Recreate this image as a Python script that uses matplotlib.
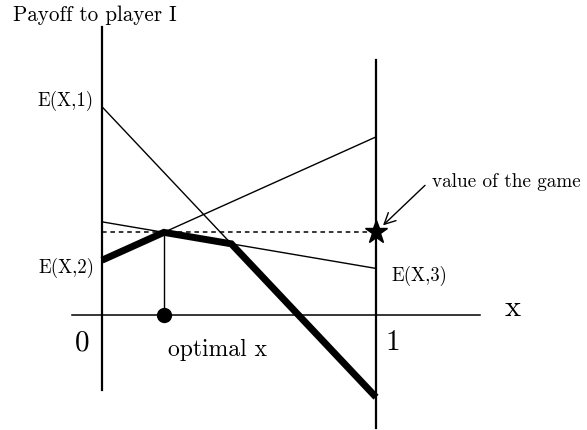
import numpy as np
import matplotlib.pyplot as plt

plt.rcParams['font.family'] = ['cmr10', 'DejaVu Serif']
plt.rcParams['mathtext.fontset'] = 'cm'

# payoff lines E(X,j) given by value at x=0 and at x=1
labels = ['E(X,1)', 'E(X,2)', 'E(X,3)']
at0 = [0.76, 0.20, 0.34]
at1 = [-0.30, 0.65, 0.17]


def lower_envelope(a, b):
    xs = [0.0, 1.0]
    for i in range(len(a)):
        for j in range(i + 1, len(a)):
            d = (a[i] - a[j]) - (b[i] - b[j])
            if d != 0:
                t = (a[i] - a[j]) / d
                if 0 < t < 1:
                    xs.append(t)
    xs = np.sort(xs)
    ys = np.min([[ai + (bi - ai) * x for x in xs] for ai, bi in zip(a, b)], axis=0)
    return xs, ys


fig = plt.figure(figsize=(5.87, 4.30), dpi=100)
ax = fig.add_axes([0, 0, 1, 1])
s = 274.0
ax.set_xlim(-102 / s, (587 - 102) / s)
ax.set_ylim(-115 / s, 315 / s)
ax.axis('off')

# axes of the diagram
ax.plot([-30 / s, 378 / s], [0, 0], color='black', lw=1.1)
ax.plot([0, 0], [-75 / s, 288 / s], color='black', lw=1.6)
ax.plot([1, 1], [-113 / s, 255 / s], color='black', lw=1.6)

for a, b in zip(at0, at1):
    ax.plot([0, 1], [a, b], color='black', lw=1.0)

ex, ey = lower_envelope(at0, at1)
ax.plot(ex, ey, color='black', lw=5, solid_capstyle='butt', solid_joinstyle='miter')

k = np.argmax(ey)
xopt, val = ex[k], ey[k]
ax.plot([0, 1], [val, val], color='black', lw=1.1, ls=(0, (3, 2.5)))
ax.plot([xopt, xopt], [0, val], color='black', lw=1.0)
ax.plot([xopt], [0], 'o', color='black', ms=10)
ax.plot([1], [val], '*', color='black', ms=17)

ax.text(-89 / s, 300 / s, 'Payoff to player I', fontsize=15.2, ha='left', va='center')
ax.text(-8 / s, at0[0] + 6 / s, labels[0], fontsize=13.5, ha='right', va='center')
ax.text(-8 / s, at0[1] - 8 / s, labels[1], fontsize=13.5, ha='right', va='center')
ax.text(1 + 15 / s, at1[2] - 8 / s, labels[2], fontsize=13.5, ha='left', va='center')
ax.text(403 / s, 7 / s, 'x', fontsize=22, ha='left', va='center')
ax.text(-20 / s, -28 / s, '0', fontsize=21, ha='center', va='center')
ax.text(1 + 17 / s, -28 / s, '1', fontsize=21, ha='center', va='center')
ax.text(116 / s, -35 / s, 'optimal x', fontsize=17, ha='center', va='center')

ax.text(1 + 56 / s, val + 50 / s, 'value of the game', fontsize=13.8,
        ha='left', va='center')
ax.annotate('', xy=(1 + 7 / s, val + 7 / s), xytext=(1 + 49 / s, val + 47 / s),
            arrowprops=dict(arrowstyle='->', color='black', lw=1.0,
                            mutation_scale=20, shrinkA=0, shrinkB=0))

fig.savefig('out.png', dpi=100)
